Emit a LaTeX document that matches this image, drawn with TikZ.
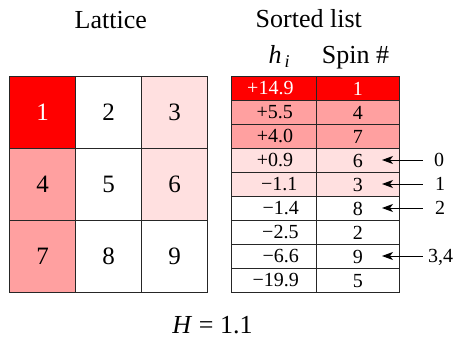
\documentclass[tikz,border=0pt]{standalone}
\usepackage{fontspec}
\setmainfont{Liberation Serif}
\newfontfamily\tms{Liberation Serif}
\usetikzlibrary{arrows.meta}
\definecolor{hot}{RGB}{255,0,0}
\definecolor{mid}{RGB}{255,160,160}
\definecolor{pale}{RGB}{255,224,224}
\begin{document}
\begin{tikzpicture}[x=1pt,y=-1pt,
  cell/.style={draw=black!85,line width=1.1pt,minimum width=66pt,minimum height=72pt,
    inner sep=0pt,anchor=north west,font=\tms\fontsize{25}{30}\selectfont},
  lcell/.style={draw=black!85,line width=1.1pt,minimum width=84.7pt,minimum height=24pt,
    inner sep=0pt,anchor=north west},
  rcell/.style={draw=black!85,line width=1.1pt,minimum width=83.3pt,minimum height=24pt,
    inner sep=0pt,anchor=north west,font=\tms\fontsize{20}{24}\selectfont},
  val/.style={inner sep=0pt,anchor=base east,font=\tms\fontsize{20}{24}\selectfont},
  title/.style={inner sep=0pt,anchor=base,font=\tms\fontsize{26}{30}\selectfont},
  lab/.style={inner sep=0pt,anchor=base,font=\tms\fontsize{20}{24}\selectfont},
  arr/.style={line width=0.9pt,-{Stealth[length=11pt,width=8pt,inset=3pt]}}
]
\useasboundingbox (0,0) rectangle (455,339);
% titles
\node[title] (tlat) at (110.8,28.3) {Lattice};
\node[title] (tsort) at (308.8,27.7) {Sorted list};
\node[title] (thi) at (279,63.5) {\textit{h}\raisebox{-0.3ex}{\fontsize{18}{20}\selectfont\,\textit{i}}};
\node[title] (tspin) at (355.5,64) {Spin \#};
% lattice
\node[cell,fill=hot,text=white] (c1) at (9,76) {1};
\node[cell,fill=white] (c2) at (75,76) {2};
\node[cell,fill=pale] (c3) at (141,76) {3};
\node[cell,fill=mid] (c4) at (9,148) {4};
\node[cell,fill=white] (c5) at (75,148) {5};
\node[cell,fill=pale] (c6) at (141,148) {6};
\node[cell,fill=mid] (c7) at (9,220) {7};
\node[cell,fill=white] (c8) at (75,220) {8};
\node[cell,fill=white] (c9) at (141,220) {9};
% sorted list
\node[lcell,fill=hot] (h1) at (231,76) {};
\node[rcell,fill=hot,text=white] (s1) at (315.7,76) {1};
\node[lcell,fill=mid] (h2) at (231,100) {};
\node[rcell,fill=mid] (s2) at (315.7,100) {4};
\node[lcell,fill=mid] (h3) at (231,124) {};
\node[rcell,fill=mid] (s3) at (315.7,124) {7};
\node[lcell,fill=pale] (h4) at (231,148) {};
\node[rcell,fill=pale] (s4) at (315.7,148) {6};
\node[lcell,fill=pale] (h5) at (231,172) {};
\node[rcell,fill=pale] (s5) at (315.7,172) {3};
\node[lcell,fill=white] (h6) at (231,196) {};
\node[rcell,fill=white] (s6) at (315.7,196) {8};
\node[lcell,fill=white] (h7) at (231,220) {};
\node[rcell,fill=white] (s7) at (315.7,220) {2};
\node[lcell,fill=white] (h8) at (231,244) {};
\node[rcell,fill=white] (s8) at (315.7,244) {9};
\node[lcell,fill=white] (h9) at (231,268) {};
\node[rcell,fill=white] (s9) at (315.7,268) {5};
% values
\node[val,text=white] (v1) at (293.7,94.8) {+14.9};
\node[val] (v2) at (293,118.8) {+5.5};
\node[val] (v3) at (293.3,142.8) {+4.0};
\node[val] (v4) at (293.3,166.8) {+0.9};
\node[val] (v5) at (297.5,190.8) {−1.1};
\node[val] (v6) at (299,214.8) {−1.4};
\node[val] (v7) at (298.7,238.8) {−2.5};
\node[val] (v8) at (299,262.8) {−6.6};
\node[val] (v9) at (299,286.8) {−19.9};
% arrows
\node[lab] (l0) at (439,166.8) {0};
\node[lab] (l1) at (440,190.8) {1};
\node[lab] (l2) at (440,214.8) {2};
\node[lab] (l3) at (440.7,262.8) {3,4};
\coordinate (a0) at (422.7,160); \coordinate (t0) at (382,160);
\coordinate (a1) at (422.7,184); \coordinate (t1) at (382,184);
\coordinate (a2) at (422.7,208); \coordinate (t2) at (382,208);
\coordinate (a3) at (422.7,256); \coordinate (t3) at (382,256);
\draw[arr] (a0) -- (t0);
\draw[arr] (a1) -- (t1);
\draw[arr] (a2) -- (t2);
\draw[arr] (a3) -- (t3);
% energy
\node[title] (en) at (212.5,333) {\textit{H} = 1.1};
\end{tikzpicture}
\end{document}
